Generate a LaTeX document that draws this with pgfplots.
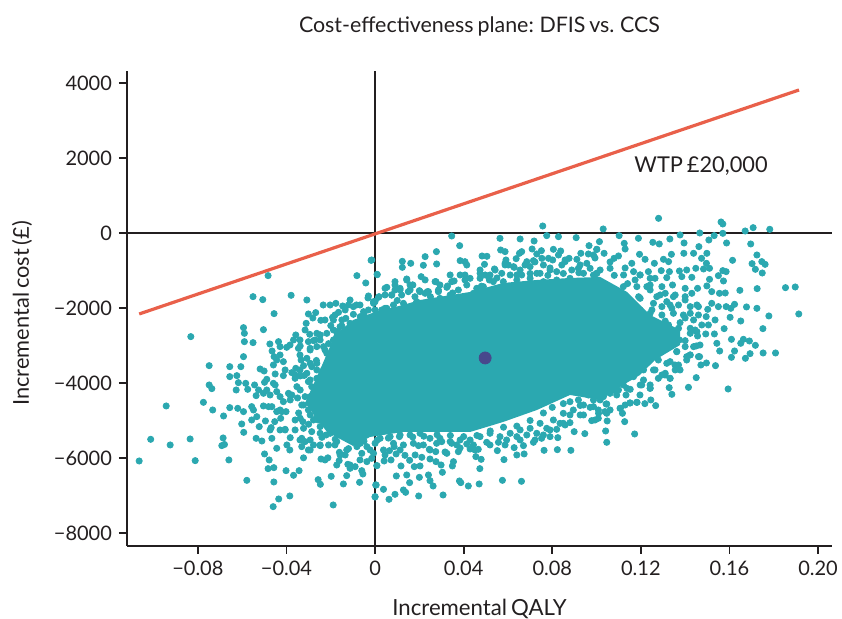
\documentclass[border=0pt]{standalone}
\usepackage{fontspec}
\setmainfont{Lato}[WordSpace=0.7]
\usepackage{pgfplots}
\pgfplotsset{compat=1.18}
\definecolor{cloud}{RGB}{43,168,176}
\definecolor{wtp}{RGB}{233,96,74}
\definecolor{meanpt}{RGB}{72,72,140}
\definecolor{ink}{RGB}{35,31,32}
\begin{document}
\begin{tikzpicture}
\useasboundingbox (-63.5pt,-36.5pt) rectangle (357.5pt,273pt);
\begin{axis}[
  at={(0pt,0pt)}, anchor=south west,
  scale only axis,
  width=352.5pt, height=237.5pt,
  xmin=-0.112, xmax=0.2063,
  ymin=-8347, ymax=4320,
  axis lines*=left,
  axis line style={ink,line width=0.9pt},
  tick align=outside,
  major tick length=4pt,
  tick style={ink,line width=0.9pt},
  xtick={-0.08,-0.04,0,0.04,0.08,0.12,0.16,0.20},
  xticklabels={−0.08,−0.04,0,0.04,0.08,0.12,0.16,0.20},
  ytick={-8000,-6000,-4000,-2000,0,2000,4000},
  yticklabels={−8000,−6000,−4000,−2000,0,2000,4000},
  tick label style={font=\fontsize{10}{12}\selectfont,text=ink},
  title={Cost-effectiveness plane: DFIS vs. CCS},
  title style={font=\fontsize{10.7}{12}\selectfont,text=ink,at={(axis description cs:0.5,1)},anchor=base,yshift=13pt},
  xlabel={Incremental QALY},
  xlabel style={font=\fontsize{11.1}{12}\selectfont,text=ink,at={(axis description cs:0.5,0)},anchor=base,yshift=-35pt},
  ylabel={Incremental cost (£)},
  ylabel style={font=\fontsize{10.9}{12}\selectfont,text=ink,at={(axis description cs:0,0.49)},anchor=base,yshift=49pt},
  clip=false,
]
% zero lines
\addplot[ink,line width=0.9pt] coordinates {(-0.112,0) (0.2063,0)};
\addplot[ink,line width=0.9pt] coordinates {(0,-8347) (0,4320)};
% solid core of the cloud
\addplot[fill=cloud,draw=none] coordinates {
(-.0316,-4533) (-.0239,-3520) (-.0181,-2720) (-.0099,-2320) (0,-2107) (.0126,-1920) (.0203,-1787)
(.0429,-1573) (.0578,-1333) (.0731,-1253) (.0880,-1200) (.1016,-1173) (.1138,-1573) (.1242,-2187)
(.1377,-2587) (.1377,-2987) (.1264,-3387) (.1196,-3787) (.1120,-4053) (.1016,-4453) (.0880,-4320)
(.0731,-4720) (.0578,-5040) (.0429,-5307) (.0126,-5307) (-.0023,-5440) (-.0099,-5680) (-.0217,-5307)
} -- cycle;
% points read off the cloud
\addplot[only marks,mark=*,mark size=1.55pt,cloud,mark options={draw=none,fill=cloud}] coordinates {
(-.1065,-6080) (-.1013,-5502) (-.0925,-5653) (-.0943,-4613) (-.0832,-2764) (-.0835,-5493) (-.0812,-6071)
(-.0775,-4516) (-.0733,-4720) (-.0749,-3538) (-.0749,-4053) (-.0737,-4151) (-.0684,-4880) (-.0686,-5466)
(-.0692,-5671) (-.0680,-5640) (-.0660,-6053) (-.0656,-3565) (-.0656,-3831) (-.0656,-4658) (-.0624,-3804)
(-.0617,-3991) (-.0627,-4187) (-.0606,-3565) (-.0594,-3298) (-.0590,-2898) (-.0590,-2676) (-.0594,-2524)
(-.0551,-2924) (-.0551,-1698) (-.0507,-1778) (-.0483,-1138) (-.0456,-2151) (-.0504,-2578) (-.0379,-1662)
(-.0308,-1787) (-.0579,-6596) (-.0499,-5893) (-.0478,-6053) (-.0483,-6284) (-.0457,-6258) (-.0457,-6640)
(-.0402,-6338) (-.0368,-6462) (-.0343,-6338) (-.0435,-7093) (-.0460,-7298) (-.0385,-7013) (-.0189,-7253)
(-.0257,-6578) (-.0247,-6702) (-.0198,-6489) (-.0143,-6693) (-.0128,-6471) (-.0070,-6649) (.0003,-6720)
(0,-7040) (-.0018,-729) (-.0082,-1138) (-.0042,-1333) (-.0030,-1680) (.0009,-1102)
(-.0584,-4009) (-.0575,-4169) (-.0544,-4053) (-.0526,-4187) (-.0537,-4338) (-.0504,-4276) (-.0489,-3902)
(-.0499,-3982) (-.0519,-3627) (-.0501,-3680) (-.0451,-3760) (-.0414,-3804) (-.0376,-3724) (-.0358,-3609)
(-.0323,-3538) (-.0308,-3342) (-.0334,-3387) (-.0414,-3431) (-.0444,-3387) (-.0459,-3520) (-.0429,-3253)
(-.0456,-3298) (-.0465,-3147) (-.0436,-2898) (-.0429,-3031) (-.0399,-3049) (-.0368,-2853) (-.0358,-2720)
(-.0475,-2960) (-.0346,-3076) (-.0338,-3013) (-.0295,-2702) (-.0263,-2676) (-.0248,-2720) (-.0301,-2898)
(-.0278,-2871) (-.0263,-3031) (-.0293,-3076) (-.0311,-2409) (-.0301,-2160) (-.0268,-2124) (-.0281,-2267)
(-.0245,-2329) (-.0234,-1920) (-.0177,-1876) (-.0165,-2116) (-.0192,-2249) (-.0200,-2471) (-.0146,-1947)
(-.0120,-1920) (-.0084,-1920) (-.0132,-2276) (-.0098,-2169) (-.0052,-2098) (-.0007,-1831) (0,-2053)
(-.0620,-4676) (-.0594,-4764) (-.0557,-4631) (-.0534,-4898) (-.0557,-4987) (-.0602,-5093) (-.0593,-5316)
(-.0523,-5164) (-.0537,-5476) (-.0511,-5547) (-.0469,-5191) (-.0495,-5013) (-.0453,-5031) (-.0466,-4631)
(-.0421,-4764) (-.0426,-4942) (-.0402,-4764) (-.0444,-5742) (-.0466,-5476) (-.0429,-5253) (-.0406,-5236)
(-.0383,-5458) (-.0398,-5653) (-.0385,-5787) (-.0361,-5253) (-.0338,-4942) (-.0326,-5031) (-.0323,-5209)
(-.0331,-5476) (-.0331,-5698) (-.0301,-5787) (-.0323,-5996) (-.0244,-6027) (-.0213,-5996) (-.0173,-6187)
(-.0162,-6071) (-.0123,-6169) (-.0090,-6231) (-.0060,-6338) (-.0055,-6427) (-.0113,-6276) (-.0037,-6098)
(-.0007,-5876) (.0008,-6204) (-.0060,-5876) (-.0128,-5787) (-.0161,-5849) (-.0210,-5653) (-.0248,-5671)
(-.0278,-5653) (-.0316,-5564) (-.0286,-5298) (-.0221,-5387) (-.0173,-5564) (-.0082,-5698) (-.0037,-5698)
(-.0481,-4631) (-.0504,-4613) (-.0549,-4720) (-.0414,-4498) (-.0429,-4364) (-.0391,-4276) (-.0376,-4320)
(-.0444,-4231) (-.0459,-4009) (-.0489,-4187) (-.0361,-3876) (-.0338,-3813) (-.0301,-3964) (-.0286,-4098)
(-.0263,-3876) (-.0233,-3653) (-.0263,-3476) (-.0218,-3209) (-.0233,-3031) (-.0173,-2764) (-.0188,-2587)
(-.0158,-2498) (-.0293,-4364) (-.0323,-4587) (-.0263,-4898) (-.0353,-4098) (-.0383,-4453) (-.0444,-4764)
(-.0248,-5164) (-.0188,-5164) (-.0128,-5431) (-.0233,-4364)
(-.0015,-720) (.0010,-1111) (.0346,-80) (.0382,-338) (.0226,-631) (.0277,-498) (.0123,-756) (.0123,-916)
(.0161,-809) (.0218,-862) (.0278,-827) (.0564,-143) (.0655,-160) (.0757,186) (.0775,-71) (.0828,-98)
(.0908,-125) (.0718,-214) (.0567,-454) (.0587,-498) (.0483,-614) (.0505,-622) (.0662,-498) (.0652,-542)
(.0709,-427) (.0751,-472) (.0730,-560) (.0805,-436) (.0838,-480) (.0828,-587) (.0966,-338) (.1001,-436)
(.0929,-542) (.0963,-560) (.0911,-702) (.0986,-587) (.0384,-738) (.0406,-765) (.0414,-854) (.0494,-836)
(.0637,-685) (.0591,-720) (.0602,-854) (.0685,-765) (.0715,-738) (.0753,-676) (.0783,-676) (.0802,-720)
(.0876,-676) (.0858,-765) (.0956,-809) (.0539,-960) (.0628,-916) (.0474,-1076) (.0143,-1227) (.0208,-1165)
(.0275,-1298) (.0170,-1387) (.0090,-1298) (.0053,-1449) (.0113,-1476) (.0200,-1538) (.0236,-1565)
(.0286,-1520) (.0327,-1414) (.0357,-1280) (.0384,-1120) (.0406,-1120) (.0515,-1209) (.0572,-1076)
(.0662,-1120) (.0745,-1076) (.0820,-1031) (.0888,-987) (.0941,-1076) (.0986,-1120) (.0015,-1716)
(.0075,-1654) (.0150,-1565) (.0045,-2009) (-.0007,-1876)
(.1280,391) (.1030,107) (.1562,293) (.1570,240) (.1671,53) (.1707,142) (.1782,98) (.1102,-71) (.1189,-142)
(.1377,-53) (.1466,0) (.1570,-9) (.1531,-71) (.1507,-187) (.1331,-160) (.1254,-249) (.1283,-293)
(.1395,-267) (.1587,-267) (.1696,-293) (.1125,-276) (.1129,-427) (.1013,-231) (.1001,-436) (.1034,-542)
(.1462,-364) (.1498,-542) (.1394,-542) (.1438,-542) (.1338,-569) (.1194,-569) (.1724,-587) (.1614,-729)
(.1702,-818) (.1746,-764) (.1761,-836) (.1717,-969) (.1748,-1067) (.1474,-676) (.1496,-809) (.1510,-942)
(.1483,-960) (.1448,-942) (.1407,-987) (.1374,-1013) (.1325,-764) (.1302,-702) (.1261,-809) (.1219,-702)
(.1159,-809) (.1099,-613) (.1079,-676) (.1329,-1031) (.1292,-1004) (.1570,-1004) (.1585,-1031)
(.1550,-1138) (.1573,-1280) (.1510,-1236) (.1498,-1413) (.1520,-1564) (.1555,-1609) (.1581,-1600)
(.1647,-1529) (.1725,-1484) (.1853,-1458) (.1897,-1440) (.1913,-2160) (.1778,-2213) (.1724,-2009)
(.1677,-1973) (.1623,-1902) (.1606,-2009) (.1585,-1964) (.1550,-1964) (.1520,-1876) (.1502,-2036)
(.1603,-2249) (.1651,-2347) (.1751,-2551) (.1576,-2551) (.1535,-2320) (.1495,-2231) (.1460,-2187)
(.1423,-2142) (.1453,-1920) (.1400,-1787) (.1347,-1698) (.1456,-1476) (.1400,-1476) (.1343,-1387)
(.1430,-1182) (.1385,-1164) (.1317,-1191) (.1609,-2836) (.1663,-2836) (.1690,-2880) (.1717,-2996)
(.1651,-2942) (.1623,-3147) (.1556,-3147) (.1543,-2942) (.1693,-3218) (.1752,-3200) (.1808,-3200)
(.1609,-3316) (.1672,-3342) (.1537,-3538) (.1496,-3467) (.1471,-3520) (.1450,-3858) (.1415,-4116)
(.1594,-4160) (.1328,-4124) (.1340,-4302) (.1152,-4533) (.1183,-4516) (.1218,-4551) (.1245,-4453)
(.1267,-4604) (.1108,-4676) (.1043,-4560) (.1493,-2693) (.1532,-2693) (.1456,-2747) (.1450,-3013)
(.1400,-2871) (.1374,-2853) (.1423,-2542) (.1377,-2391) (.1465,-3298) (.1407,-3298) (.1377,-3653)
(.1332,-3876) (.1295,-3787) (.1242,-4142) (.1204,-4053) (.1152,-4169) (.1091,-4320) (.1031,-4364)
(.1362,-3164) (.1317,-3476) (.1257,-3653) (.1347,-2676) (.1295,-1964) (.1340,-2009) (.1272,-1698)
(.1227,-1431) (.1174,-1253) (.1121,-1431) (.1061,-942) (.1016,-987) (.1242,-1209)
(0,-7031) (.0005,-6720) (.0038,-6836) (.0063,-7102) (.0090,-6969) (.0128,-6853) (.0138,-6916) (.0197,-7013)
(.0307,-6987) (.0096,-6480) (.0143,-6453) (.0156,-6658) (.0200,-6516) (.0241,-6453) (.0248,-6604)
(.0262,-6747) (.0381,-6613) (.0387,-6658) (.0421,-6747) (.0470,-6693) (.0575,-6596) (.0661,-6622)
(.0473,-6284) (.0304,-6382) (.0349,-6213) (.0354,-6098) (.0479,-6036) (.0455,-5964) (.0582,-6044)
(.0640,-5920) (.0673,-5893) (.0552,-5804) (.0763,-5796) (.0823,-5778) (.0884,-5796) (.1046,-5582)
(.1041,-5280) (.0947,-5351) (.0899,-5298) (.1172,-5360) (.1127,-5031) (.1048,-5013) (.1117,-4809)
(.1106,-4676) (.1150,-4533) (.1181,-4516) (.1133,-4320) (.1046,-4560) (.1038,-4764) (.1008,-4942)
(.0978,-5004) (.0941,-4853) (.0880,-5058) (.0850,-5076) (.0820,-5236) (.0790,-5431) (.0825,-5458)
(.0752,-5476) (.0715,-5582) (.0670,-5671) (.0628,-5724) (.0594,-5520) (.0557,-5582) (.0504,-5582)
(.0466,-5769) (.0429,-5760) (.0376,-5831) (.0324,-5876) (.0298,-6187) (.0275,-6098) (.0248,-6027)
(.0211,-5982) (.0203,-6213) (.0177,-6231) (.0156,-6062) (.0135,-5929) (.0117,-6213) (.0095,-5893)
(.0072,-6053) (.0041,-6080) (.0008,-6204) (-.0015,-6009) (.0038,-5787) (.0065,-5804) (.0245,-5769)
(.0274,-5831) (.0346,-5609) (.0414,-5627) (.0196,-5671) (.0173,-5609) (.0086,-5698) (0,-5609) (.0301,-5564)
% dense rim, top
(0,-1831) (.0018,-1698) (.0045,-1476) (.0053,-2009) (.0075,-1654) (.0083,-1920) (.0090,-1387) (.0113,-1520)
(.0120,-1654) (.0143,-1254) (.0158,-1520) (.0170,-1387) (.0188,-1831) (.0203,-1565) (.0226,-1609)
(.0241,-1565) (.0271,-1298) (.0286,-1565) (.0324,-1449) (.0346,-1298) (.0429,-1209) (.0459,-1476)
(.0474,-1209) (.0497,-1120) (.0516,-1254) (.0542,-987) (.0587,-809) (.0610,-1120) (.0625,-898) (.0677,-854)
(.0700,-898) (.0730,-1076) (.0760,-854) (.0790,-987) (.0843,-854) (.0918,-943) (.0971,-943) (.1001,-1076)
(.0068,-2143) (.0023,-2231) (.0030,-2054) (.0128,-1876) (.0173,-2054) (.0203,-1965) (.0248,-1876)
(.0293,-1743) (.0339,-1654) (.0376,-1520) (.0414,-1387) (.0444,-1609) (.0489,-1431) (.0534,-1298)
(.0579,-1298) (.0640,-1254) (.0700,-1209) (.0760,-1298) (.0820,-1254) (.0880,-1209) (.0941,-1298) (.1001,-1298)
(.0045,-1653) (.0090,-1520) (.0158,-1387) (.0226,-1253) (.0293,-1387) (.0339,-1120) (.0406,-1253) (.0474,-987)
(.0519,-1120) (.0587,-853) (.0655,-987) (.0722,-773) (.0790,-933) (.0858,-720) (.0926,-853) (.0993,-667)
(.1061,-773) (.1129,-933) (.1196,-1120) (.1242,-1387) (.1287,-1653) (.1332,-1920) (.1400,-2267)
(.0100,-1800) (.0250,-1700) (.0350,-1600) (.0480,-1420) (.0550,-1200) (.0640,-1120) (.0700,-1080) (.0780,-1130)
(.0850,-1080) (.0920,-1060) (.1000,-1080) (.1080,-1130) (.1140,-1350) (.1190,-1700) (.1250,-2050) (.1310,-2350)
(.0180,-1700) (-.0050,-2150) (-.0150,-2480)
% dense rim, right
(.1122,-1120) (.1167,-1031) (.1197,-1120) (.1234,-1031) (.1264,-1209) (.1295,-1431) (.1182,-1431) (.1242,-1520)
(.1310,-1609) (.1355,-1653) (.1400,-1698) (.1430,-1609) (.1197,-1742) (.1257,-1876) (.1317,-1831) (.1370,-1920)
(.1423,-1964) (.1460,-1964) (.1197,-2053) (.1242,-2142) (.1295,-2187) (.1347,-2142) (.1392,-2187) (.1438,-2320)
(.1475,-2453) (.1505,-2453) (.1227,-2409) (.1272,-2453) (.1325,-2453) (.1370,-2542) (.1423,-2676) (.1453,-2631)
(.1174,-2676) (.1234,-2764) (.1295,-2720) (.1340,-2809) (.1400,-3031) (.1438,-3031) (.1197,-3031) (.1257,-3076)
(.1310,-3076) (.1362,-3164) (.1423,-3253) (.1460,-3298) (.1182,-3387) (.1227,-3342) (.1279,-3387) (.1332,-3431)
(.1370,-3520) (.1407,-3387) (.1167,-3609) (.1212,-3653) (.1264,-3653) (.1310,-3742) (.1355,-3653) (.1122,-3742)
(.1167,-3831) (.1212,-3920) (.1279,-3876) (.1332,-3876) (.1061,-4098) (.1099,-4187) (.1137,-4142) (.1197,-4053)
(.1242,-4142) (.1016,-4453) (.1061,-4276) (.0986,-4631) (.1009,-4809)
(.1445,-2587) (.1467,-2987) (.1422,-3253) (.1354,-3520) (.1309,-3787) (.1242,-4053) (.1196,-4320) (.1129,-4587)
(.1061,-4720) (.0993,-4987) (.0926,-4853)
% dense rim, bottom
(.0023,-5476) (.0068,-5431) (.0113,-5387) (.0158,-5387) (.0203,-5342) (.0248,-5476) (.0293,-5476) (.0339,-5564)
(.0384,-5520) (.0429,-5520) (.0474,-5431) (.0519,-5342) (.0564,-5431) (.0610,-5342) (.0655,-5253) (.0700,-5209)
(.0745,-5076) (.0775,-5209) (.0805,-4987) (.0850,-4809) (.0895,-4720) (.0941,-4587) (.0986,-4453) (.1031,-4276)
(.1076,-4187) (.1121,-4053) (.0083,-5609) (.0128,-5653) (.0218,-5653) (.0278,-5609) (.0369,-5653) (.0444,-5653)
(.0640,-5431) (.0685,-5387) (.0730,-5342) (.0760,-5387) (.0835,-5076) (.0880,-4853) (.0918,-4453) (.0963,-4320)
(.1008,-4720) (.1046,-4809)
(.0858,-5120) (.0790,-5253) (.0722,-5520) (.0655,-5520) (.0587,-5653) (.0519,-5653) (.0451,-5787) (.0384,-5733)
(.0316,-5840) (.0248,-5787) (.0181,-5920) (.0113,-5787) (.0045,-5920)
(.0880,-4500) (.0926,-4600) (.0971,-4650) (.0850,-4550) (.0800,-4650) (.0760,-4800) (.0700,-5000) (.0640,-5150)
(.0580,-5180) (.0520,-5280) (.0460,-5400) (.0400,-5430) (.0340,-5400) (.0280,-5380) (.0220,-5420) (.0170,-5440)
(.0110,-5430) (.0060,-5470) (.0010,-5520)
% dense rim, left
(-.0248,-2853) (-.0218,-2676) (-.0188,-2853) (-.0158,-2676) (-.0293,-3476) (-.0263,-3653) (-.0233,-3831)
(-.0308,-3742) (-.0286,-3565) (-.0338,-4187) (-.0316,-4364) (-.0286,-4542) (-.0331,-4587) (-.0301,-4720)
(-.0263,-4542) (-.0278,-4987) (-.0248,-4987) (-.0218,-4898) (-.0188,-5076) (-.0248,-5342) (-.0203,-5342)
(-.0158,-5342) (-.0113,-5520) (-.0067,-5609) (-.0022,-5787) (-.0293,-5520) (-.0098,-1965) (-.0067,-2231)
(-.0030,-2053) (-.0113,-2409) (-.0150,-2320) (-.0188,-2320) (-.0173,-2631)
(-.0384,-2987) (-.0339,-2853) (-.0406,-3653) (-.0361,-3787) (-.0451,-4053) (-.0384,-4320) (-.0474,-4320)
(-.0429,-4720) (-.0361,-4987) (-.0406,-5253) (-.0474,-5253) (-.0339,-5520) (-.0293,-5787) (-.0248,-5653)
(-.0226,-6053) (-.0158,-5920) (-.0113,-6187) (-.0068,-6053) (-.0339,-3253) (-.0293,-3120) (-.0271,-2853)
(-.0248,-2720) (-.0316,-2587) (-.0226,-2320) (-.0181,-2187) (-.0135,-2053) (-.0203,-1920) (-.0113,-1787)
(-.0068,-1920) (-.0032,-1733) (-.0339,-3653) (-.0293,-3920) (-.0271,-4320) (-.0226,-3120) (-.0257,-4987)
(-.0293,-4853) (-.0181,-5653) (-.0135,-5920)
(-.0210,-2950) (-.0265,-3400) (-.0320,-3800) (-.0350,-4400) (-.0345,-4800) (-.0300,-5100) (-.0240,-5450)
(-.0180,-5500) (-.0120,-5750) (-.0050,-5550)
};
% WTP line
\addplot[wtp,line width=1.6pt] coordinates {(-.1065,-2160) (.1914,3813)};
% mean
\addplot[only marks,meanpt,mark=*,mark size=3pt,mark options={draw=none,fill=meanpt}] coordinates {(.0497,-3333)};
\node[font=\fontsize{10.9}{12}\selectfont,text=ink] at (axis cs:.1472,1787) {WTP £20,000};
\end{axis}
\end{tikzpicture}
\end{document}
